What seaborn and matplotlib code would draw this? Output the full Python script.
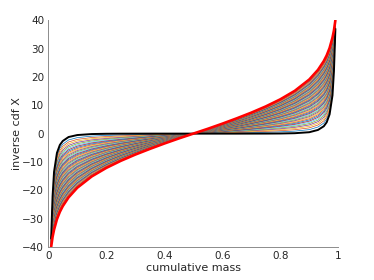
import numpy as np
import pandas as pd
import matplotlib
matplotlib.use("Agg")
import matplotlib.pyplot as plt
import seaborn as sns

# ── Data ─────────────────────────────────────────────────────────────────────
# cumulative mass grid
mass = [0.01, 0.015, 0.02, 0.03, 0.04, 0.05, 0.07, 0.10, 0.15, 0.20, 0.25,
        0.30, 0.35, 0.40, 0.45, 0.50, 0.55, 0.60, 0.65, 0.70, 0.75, 0.80,
        0.85, 0.90, 0.93, 0.95, 0.96, 0.97, 0.98, 0.985, 0.99]

# sharpest quantile function (black)
q_black = [-37.0, -22.0, -13.5, -6.8, -4.0, -2.6, -1.2, -0.5, -0.15, -0.05,
           -0.02, -0.01, 0.0, 0.0, 0.0, 0.0, 0.0, 0.0, 0.0, 0.01, 0.02, 0.05,
           0.15, 0.5, 1.3, 2.6, 4.0, 6.8, 13.5, 22.0, 37.0]

# widest quantile function (red)
q_red = [-40.0, -36.4, -33.9, -30.2, -27.6, -25.6, -22.5, -19.1, -15.1, -12.1,
         -9.6, -7.4, -5.4, -3.5, -1.7, 0.0, 1.7, 3.5, 5.4, 7.4, 9.6, 12.1,
         15.1, 19.1, 22.5, 25.6, 27.6, 30.2, 33.9, 36.4, 40.0]

# intermediate curves: blends between black and red (denser towards red)
n_between = 55
blend = np.linspace(0, 1, n_between + 2)[1:-1] ** 0.75

matlab_colors = ["#0072BD", "#D95319", "#EDB120", "#7E2F8E",
                 "#77AC30", "#4DBEEE", "#A2142F"]

mass = np.array(mass)
q_black = np.array(q_black)
q_red = np.array(q_red)

rows = []
for i, w in enumerate(blend):
    q = (1 - w) * q_black + w * q_red
    rows.append(pd.DataFrame({"mass": mass, "q": q, "curve": i}))
df = pd.concat(rows, ignore_index=True)
palette = [matlab_colors[i % len(matlab_colors)] for i in range(n_between)]

# ── Plot ─────────────────────────────────────────────────────────────────────
sns.set_style("white")
plt.rcParams["font.family"] = ["DejaVu Sans"]
text_col = "#262626"

fig = plt.figure(figsize=(3.74, 2.80), dpi=100)
ax = fig.add_axes([0.129, 0.118, 0.7755, 0.8095])

sns.lineplot(data=df, x="mass", y="q", hue="curve", palette=palette,
             linewidth=0.5, legend=False, ax=ax, estimator=None, sort=False)
sns.lineplot(x=mass, y=q_black, color="black", linewidth=1.4, ax=ax,
             estimator=None, sort=False)
sns.lineplot(x=mass, y=q_red, color="red", linewidth=1.9, ax=ax,
             estimator=None, sort=False)

ax.set_xlim(0, 1)
ax.set_ylim(-40, 40)
ax.set_xticks([0, 0.2, 0.4, 0.6, 0.8, 1])
ax.set_xticklabels(["0", "0.2", "0.4", "0.6", "0.8", "1"])
ax.set_yticks(np.arange(-40, 41, 10))
ax.set_xlabel("cumulative mass", fontsize=8, color=text_col, labelpad=1)
ax.set_ylabel("inverse cdf X", fontsize=8, color=text_col, labelpad=0)

ax.tick_params(direction="in", length=2.5, width=0.6, colors="#8c8c8c",
               labelcolor=text_col, labelsize=7.5, pad=3)
for side in ["top", "right"]:
    ax.spines[side].set_visible(False)
for side in ["left", "bottom"]:
    ax.spines[side].set_color("#8c8c8c")
    ax.spines[side].set_linewidth(0.7)

fig.savefig("out.png", dpi=100)
